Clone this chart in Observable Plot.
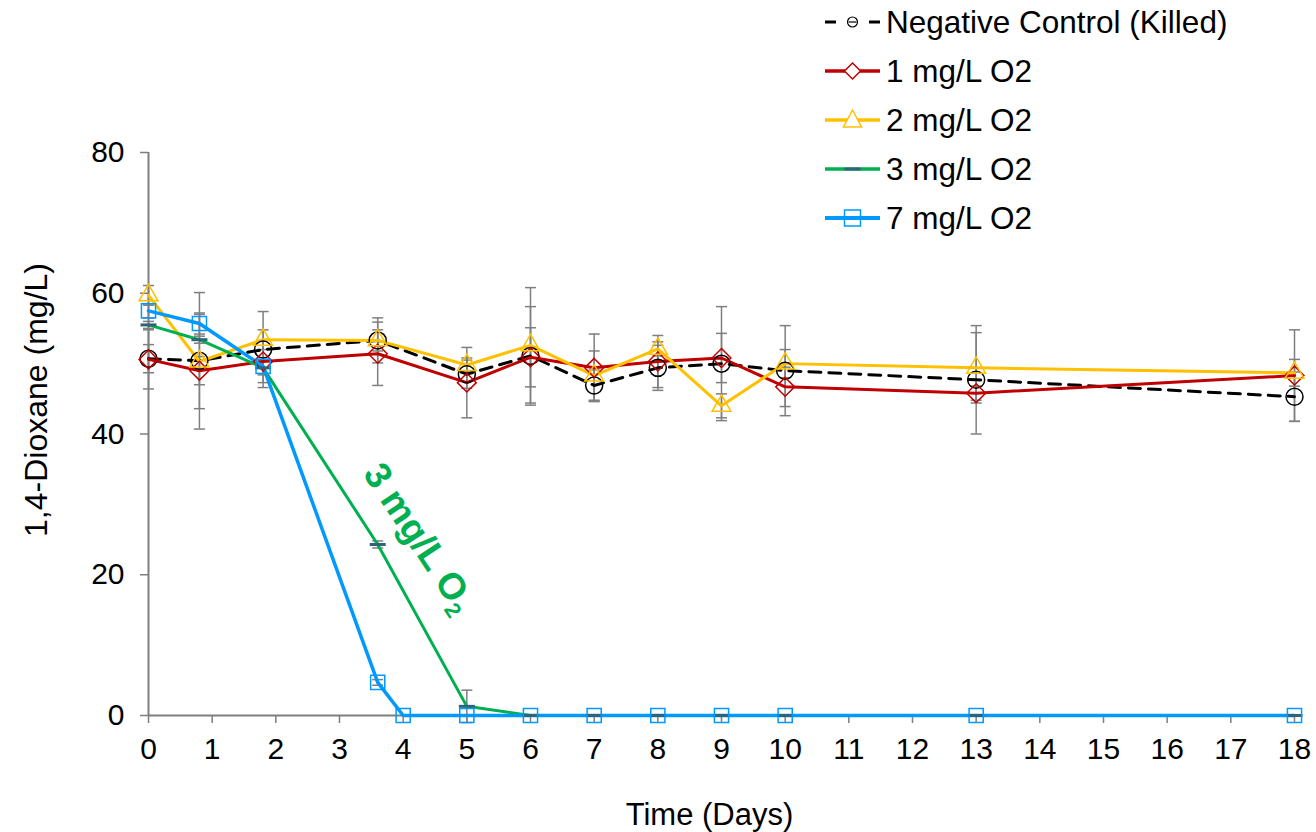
<!DOCTYPE html>
<html>
<head>
<meta charset="utf-8">
<script src="https://cdn.jsdelivr.net/npm/d3@7"></script>
<script src="https://cdn.jsdelivr.net/npm/@observablehq/plot@0.6"></script>
<style>
  html, body { margin: 0; padding: 0; background: #fff; }
  #wrap { position: relative; width: 1316px; height: 832px; overflow: hidden; font-family: "Liberation Sans", Arial, sans-serif; }
  #legend { position: absolute; left: 0; top: 0; pointer-events: none; }
</style>
</head>
<body>
<div id="wrap"><div id="chart"></div><svg id="legend" width="1316" height="250"></svg></div>
<script>
// ---- data ----
const days     = [0, 0.8, 1.8, 3.6, 5, 6, 7, 8, 9, 10, 13, 18];
const daysBlue = [0, 0.8, 1.8, 3.6, 4, 5, 6, 7, 8, 9, 10, 13, 18];

const seriesNames = ["Negative Control (Killed)", "1 mg/L O2", "2 mg/L O2", "3 mg/L O2", "7 mg/L O2"];
const seriesColors = ["#000000", "#C00000", "#FFC000", "#00B050", "#0099FF"];

const control    = [50.7, 50.4, 52.0, 53.3, 48.5, 51.1, 46.9, 49.4, 50.0, 49.0, 47.7, 45.3];
const controlErr = [2.0, 9.7, 5.4, 3.2, 2.0, 7.0, 2.2, 3.2, 8.1, 6.4, 7.7, 3.5];
const o1         = [50.6, 49.0, 50.3, 51.4, 47.3, 50.9, 49.4, 50.3, 50.8, 46.7, 45.8, 48.3];
const o1Err      = [4.2, 2.0, 3.0, 4.5, 5.0, 4.2, 4.8, 3.7, 3.5, 2.8, 1.0, 6.5];
const o2         = [59.7, 50.3, 53.4, 53.3, 49.8, 52.6, 48.3, 52.1, 44.0, 50.0, 49.4, 48.7];
const o2Err      = [1.4, 6.7, 1.4, 1.5, 1.0, 8.2, 3.5, 1.0, 1.7, 2.0, 5.0, 1.9];
const o3         = [55.5, 53.4, 49.4, 24.3, 1.3, 0, 0, 0, 0, 0, 0, 0];
const o3Err      = [0.5, 0.5, 1.0, 0.5, 2.3, 0, 0, 0, 0, 0, 0, 0];
const o7         = [57.5, 55.7, 49.6, 4.7, 0, 0, 0, 0, 0, 0, 0, 0, 0];
const o7Err      = [1.0, 1.5, 1.0, 0.4, 0, 0, 0, 0, 0, 0, 0, 0, 0];

const xTicks = d3.range(0, 19);
const yTicks = [0, 20, 40, 60, 80];
const xTitle = "Time (Days)";
const yTitle = "1,4-Dioxane (mg/L)";

// in-chart label for the 3 mg/L series (anchored at the end of "O", subscript drawn separately)
const annotMain = "3 mg/L O";
const annotSub = "2";
const annotDay = 4.88, annotValue = 16.6, annotAngle = 56.5;

// ---- build table ----
function rows(name, xs, vs, es) {
  return xs.map((d, i) => ({series: name, day: d, value: vs[i], err: es[i]}));
}
const table = [
  ...rows(seriesNames[0], days, control, controlErr),
  ...rows(seriesNames[1], days, o1, o1Err),
  ...rows(seriesNames[2], days, o2, o2Err),
  ...rows(seriesNames[3], days, o3, o3Err),
  ...rows(seriesNames[4], daysBlue, o7, o7Err)
];
const errRows = table.filter(d => d.err > 0);
const bySeries = name => table.filter(d => d.series === name);

const hline = { draw(ctx, size) { const w = Math.sqrt(size / Math.PI); ctx.moveTo(-w, 0); ctx.lineTo(w, 0); } };

const gray = "#7f7f7f";
const font = "'Liberation Sans', Arial, sans-serif";
const th = annotAngle * Math.PI / 180;
const subAlong = 0, subDown = 12;
const subDx = subAlong * Math.cos(th) - subDown * Math.sin(th);
const subDy = subAlong * Math.sin(th) + subDown * Math.cos(th);

const plot = Plot.plot({
  width: 1316, height: 832,
  marginLeft: 148, marginRight: 22, marginTop: 152, marginBottom: 117,
  style: { fontFamily: font, background: "white", color: "#000", overflow: "visible" },
  x: { domain: [0, 18] },
  y: { domain: [0, 80] },
  marks: [
    Plot.axisX({ ticks: xTicks, tickSize: 8, tickPadding: 14, stroke: gray, strokeWidth: 1.5, fontSize: 30, fill: "#000", label: null }),
    Plot.axisY({ ticks: yTicks, tickSize: 8, tickPadding: 16, stroke: gray, strokeWidth: 1.5, fontSize: 30, fill: "#000", label: null }),
    Plot.text([xTitle], { frameAnchor: "bottom", dx: -12, dy: 100, fontSize: 31, fill: "#000", textAnchor: "middle", lineAnchor: "middle" }),
    Plot.text([yTitle], { frameAnchor: "left", rotate: -90, dx: -112, dy: -34, fontSize: 32, fill: "#000", textAnchor: "middle", lineAnchor: "middle" }),
    Plot.ruleX([0], { stroke: gray, strokeWidth: 2 }),
    Plot.ruleY([0], { stroke: gray, strokeWidth: 2 }),
    // error bars
    Plot.ruleX(errRows, { x: "day", y1: d => d.value - d.err, y2: d => d.value + d.err, stroke: gray, strokeWidth: 1.5 }),
    Plot.dot(errRows, { x: "day", y: d => d.value - d.err, symbol: hline, r: 5.5, stroke: gray, strokeWidth: 1.5 }),
    Plot.dot(errRows, { x: "day", y: d => d.value + d.err, symbol: hline, r: 5.5, stroke: gray, strokeWidth: 1.5 }),
    // lines
    Plot.line(bySeries(seriesNames[0]), { x: "day", y: "value", stroke: seriesColors[0], strokeWidth: 3, strokeDasharray: "12,8" }),
    Plot.line(bySeries(seriesNames[1]), { x: "day", y: "value", stroke: seriesColors[1], strokeWidth: 3 }),
    Plot.line(bySeries(seriesNames[2]), { x: "day", y: "value", stroke: seriesColors[2], strokeWidth: 3 }),
    Plot.line(bySeries(seriesNames[3]), { x: "day", y: "value", stroke: seriesColors[3], strokeWidth: 3 }),
    Plot.line(bySeries(seriesNames[4]), { x: "day", y: "value", stroke: seriesColors[4], strokeWidth: 3.5 }),
    // markers
    Plot.dot(bySeries(seriesNames[0]), { x: "day", y: "value", symbol: "circle", r: 8.5, stroke: "#000", strokeWidth: 1.5, fill: "none" }),
    Plot.dot(bySeries(seriesNames[1]), { x: "day", y: "value", symbol: "diamond2", r: 8.5, stroke: seriesColors[1], strokeWidth: 1.5, fill: "none" }),
    Plot.dot(bySeries(seriesNames[2]), { x: "day", y: "value", symbol: "triangle2", r: 9, stroke: seriesColors[2], strokeWidth: 1.5, fill: "none" }),
    Plot.dot(bySeries(seriesNames[3]), { x: "day", y: "value", symbol: hline, r: 8, stroke: "#2E6479", strokeWidth: 3 }),
    Plot.dot(bySeries(seriesNames[4]), { x: "day", y: "value", symbol: "square2", r: 9, stroke: seriesColors[4], strokeWidth: 1.5, fill: "none" }),
    // annotation
    Plot.text([annotMain], { x: () => annotDay, y: () => annotValue, text: d => d, rotate: annotAngle,
      textAnchor: "end", lineAnchor: "middle", fill: seriesColors[3], fontSize: 37, fontWeight: "bold", fontFamily: font }),
    Plot.text([annotSub], { x: () => annotDay, y: () => annotValue, text: d => d, rotate: annotAngle, dx: subDx, dy: subDy,
      textAnchor: "start", lineAnchor: "middle", fill: seriesColors[3], fontSize: 22, fontWeight: "bold", fontFamily: font })
  ]
});
document.getElementById("chart").appendChild(plot);

// ---- legend ----
const lg = d3.select("#legend");
const rowY = i => 22 + 49 * i;
const x0 = 825, x1 = 880, xm = 852.5;
seriesNames.forEach((name, i) => {
  const g = lg.append("g").attr("transform", `translate(0,${rowY(i)})`);
  if (i === 0) {
    g.append("line").attr("x1", x0).attr("x2", 836).attr("stroke", "#000").attr("stroke-width", 3);
    g.append("line").attr("x1", 869).attr("x2", x1).attr("stroke", "#000").attr("stroke-width", 3);
    g.append("circle").attr("cx", xm).attr("r", 5).attr("fill", "none").attr("stroke", "#000").attr("stroke-width", 1.2);
    g.append("line").attr("x1", xm - 4).attr("x2", xm + 4).attr("stroke", "#000").attr("stroke-width", 1.2);
  } else {
    g.append("line").attr("x1", x0).attr("x2", x1).attr("stroke", seriesColors[i]).attr("stroke-width", i === 4 ? 4 : 3.5);
    if (i === 1) g.append("path").attr("d", `M${xm},-8L${xm+8},0L${xm},8L${xm-8},0Z`).attr("fill", "#fff").attr("stroke", seriesColors[1]).attr("stroke-width", 1.5);
    if (i === 2) g.append("path").attr("d", `M${xm},-10L${xm+9},7L${xm-9},7Z`).attr("fill", "#fff").attr("stroke", seriesColors[2]).attr("stroke-width", 1.5);
    if (i === 3) g.append("line").attr("x1", xm - 8).attr("x2", xm + 8).attr("stroke", "#2E6479").attr("stroke-width", 3);
    if (i === 4) g.append("rect").attr("x", xm - 8).attr("y", -8).attr("width", 16).attr("height", 16).attr("fill", "none").attr("stroke", seriesColors[4]).attr("stroke-width", 1.5);
  }
  g.append("text").attr("x", 886).attr("dy", "0.35em").attr("font-size", 31.5).attr("font-family", font).attr("fill", "#000").text(name);
});
</script>
</body>
</html>
